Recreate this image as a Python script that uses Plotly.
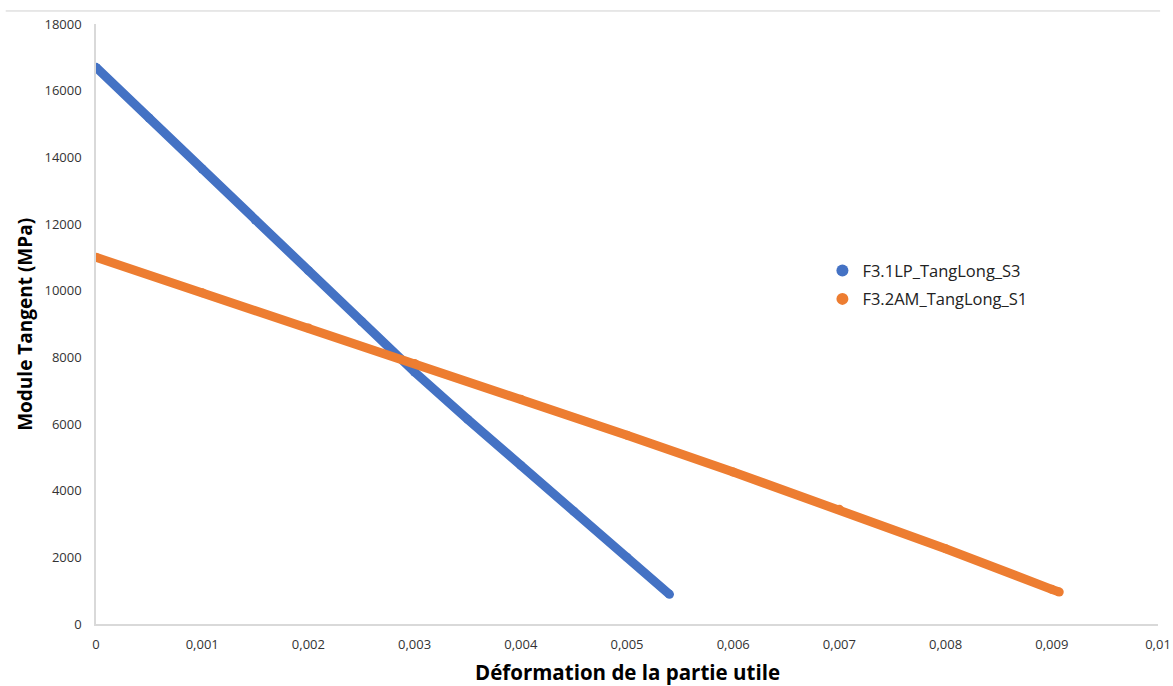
import plotly.graph_objects as go

# Blue series: F3.1LP_TangLong_S3
blue_x = [0, 0.0005, 0.001, 0.0015, 0.002, 0.0025, 0.003, 0.0035, 0.004, 0.0045, 0.005, 0.0054]
blue_y = [16700, 15180, 13650, 12120, 10600, 9080, 7560, 6140, 4760, 3380, 2000, 890]

# Orange series: F3.2AM_TangLong_S1
orange_x = [0, 0.001, 0.002, 0.003, 0.004, 0.005, 0.006, 0.007, 0.008, 0.009, 0.00907]
orange_y = [11000, 9940, 8880, 7815, 6745, 5665, 4560, 3440, 2260, 1040, 960]

names = ["F3.1LP_TangLong_S3", "F3.2AM_TangLong_S1"]
colors = ["#4472C4", "#ED7D31"]

fig = go.Figure()
for i, (xs, ys) in enumerate([(blue_x, blue_y), (orange_x, orange_y)]):
    fig.add_trace(go.Scatter(x=xs, y=ys, mode="lines", line=dict(color=colors[i], width=9),
                             showlegend=False, hoverinfo="skip"))
    fig.add_trace(go.Scatter(x=xs, y=ys, mode="markers", name=names[i], legendgroup=names[i],
                             marker=dict(color=colors[i], size=9, line=dict(width=0))))

fig.update_layout(
    width=1173, height=686,
    margin=dict(l=96, r=15, t=24, b=62),
    paper_bgcolor="white", plot_bgcolor="white",
    separators=", ",
    font=dict(family="Open Sans", color="#000000"),
    legend=dict(x=0.684, y=0.618, xanchor="left", yanchor="top", font=dict(size=16.5, color="#222222"),
                tracegroupgap=4, itemsizing="constant"),
    xaxis=dict(range=[0, 0.01], tickvals=[i * 0.001 for i in range(11)], tickformat=".3~f",
               showgrid=False, zeroline=False, showline=True, linecolor="#D9D9D9", linewidth=1.5,
               ticks="", tickfont=dict(size=13, color="#333333"), ticklabelstandoff=8, automargin=False),
    yaxis=dict(range=[0, 18000], dtick=2000, tickformat="d",
               showgrid=False, zeroline=False, showline=True, linecolor="#D9D9D9", linewidth=1.5,
               ticks="", tickfont=dict(size=13, color="#333333"), ticklabelstandoff=10, automargin=False),
    shapes=[dict(type="line", xref="paper", yref="paper", x0=-0.085, x1=1.002, y0=1.0217, y1=1.0217,
                 line=dict(color="#D0D0D0", width=1))],
    annotations=[
        dict(text="<b>Déformation de la partie utile</b>", xref="paper", yref="paper", x=0.5, y=-0.08,
             xanchor="center", yanchor="middle", showarrow=False, font=dict(size=20.5, color="#000000")),
        dict(text="<b>Module Tangent (MPa)</b>", xref="paper", yref="paper", x=-0.067, y=0.5, textangle=-90,
             xanchor="center", yanchor="middle", showarrow=False, font=dict(size=19, color="#000000")),
    ],
)

fig.write_html("out.html", config={"displayModeBar": False},
               post_script="document.body.style.margin='0px';")
